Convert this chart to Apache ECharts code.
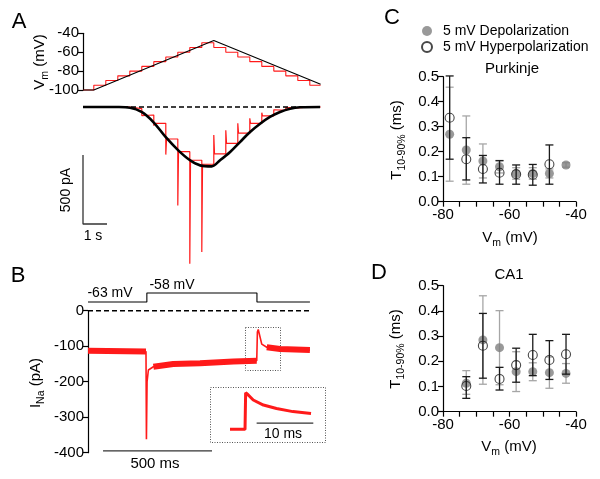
<!DOCTYPE html>
<html><head><meta charset="utf-8">
<script src="https://cdn.jsdelivr.net/npm/echarts@6/dist/echarts.min.js"></script>
<style>html,body{margin:0;padding:0;background:#fff}#c{width:600px;height:479px}</style>
</head><body><div id="c"></div>
<script>
// ---------- Panel A: voltage staircase (s, mV) ----------
const aStepTimes  = [0,0.45,0.95,1.45,1.95,2.45,2.95,3.45,3.95,4.45,4.95,5.45,5.95,6.45,6.95,7.45,7.95,8.45,8.95,9.45,9.9];
const aStepLevels = [-100,-95,-90,-85,-80,-75,-70,-65,-60,-55,-50,-55,-60,-65,-70,-75,-80,-85,-90,-95];
const aRampT = [0,0.45,5.45,9.9];
const aRampV = [-100,-100,-47.5,-94];
// Panel A: step-evoked current (pA): steady level per step and transient at step onset
const aCurLevels = [0,0,0,0,-12,-58,-118,-232,-324,-386,-415,-340,-263,-190,-118,-65,-25,-6,0,0];
const aCurSpikes = [0,0,0,0,-14,-62,-135,-345,-713,-1135,-1051,-203,-169,-118,-82,-41,-20,-5,0,0];
// Panel A: ramp-evoked current (pA)
const aRampCurT = [0,0.8,1.5,1.96,2.44,2.93,3.44,3.97,4.46,4.88,5.36,5.71,6.13,6.54,6.96,7.38,7.79,8.21,8.63,9.04,9.88];
const aRampCurI = [0,0,0,-5,-36,-109,-217,-314,-386,-423,-430,-386,-326,-254,-181,-121,-72,-36,-12,-2,0];

// ---------- Panel B (ms, mV / pA) ----------
const bVoltT = [0,270,270,775,775,1018];
const bVoltV = [-63,-63,-58,-58,-63,-63];
const bCurT = [0,266,268,271,277,300,391,514,667,774,777,781,797,820,881,1018];
const bCurI = [-113,-115,-362,-200,-167,-158,-150,-148,-143,-141,-60,-53,-94,-103,-108,-111];
const insT = [0,2.65,2.76,3.23,4.1,5.9,8.2,11.1,14.3];
const insI = [-148,-148,-53,-59,-72,-85,-94,-102,-107];

// ---------- Panel C: Purkinje ----------
const cDepV  = [-78,-73,-68,-63,-58,-53,-48,-43];
const cDep   = [0.27,0.207,0.163,0.14,0.113,0.113,0.113,0.147];
const cDepLo = [0.082,0.07,0.095,0.115,0.09,0.09,0.095,0.138];
const cDepHi = [0.458,0.343,0.231,0.165,0.136,0.136,0.131,0.156];
const cHypV  = [-78,-73,-68,-63,-58,-53,-48];
const cHyp   = [0.336,0.17,0.131,0.116,0.11,0.108,0.15];
const cHypLo = [0.17,0.087,0.075,0.07,0.07,0.066,0.07];
const cHypHi = [0.503,0.256,0.185,0.164,0.147,0.149,0.227];

// ---------- Panel D: CA1 ----------
const dDepV  = [-73,-68,-63,-58,-53,-48,-43];
const dDep   = [0.113,0.285,0.254,0.159,0.159,0.155,0.152];
const dDepLo = [0.069,0.109,0.107,0.08,0.123,0.093,0.113];
const dDepHi = [0.163,0.46,0.401,0.238,0.194,0.217,0.191];
const dHypV  = [-73,-68,-63,-58,-53,-48,-43];
const dHyp   = [0.102,0.262,0.13,0.185,0.225,0.205,0.228];
const dHypLo = [0.053,0.133,0.086,0.117,0.143,0.128,0.149];
const dHypHi = [0.139,0.39,0.176,0.252,0.307,0.282,0.307];

const FONT = 'Liberation Sans, Arial, sans-serif';
const RED = '#ff1a1a';

// build staircase points from listed levels
const aStairs = [];
aStepLevels.forEach((L,k)=>{ aStairs.push([aStepTimes[k],L],[aStepTimes[k+1],L]); });
const aCurPts = [];
aCurLevels.forEach((L,k)=>{
  if (k>0) aCurPts.push([aStepTimes[k], aCurSpikes[k]]);
  aCurPts.push([aStepTimes[k]+(k>0?0.03:0), L],[aStepTimes[k+1], L]);
});
const zip = (a,b)=>a.map((v,i)=>[v,b[i]]);
const err = (x,lo,hi)=>x.map((v,i)=>[v,lo[i],hi[i]]);
const bBand = bCurT.map((t,i)=> ((t>266&&t<295)||(t>=775&&t<815)) ? [t,null] : [t,bCurI[i]]);

function errRender(color){
  return function(params, api){
    const x=api.value(0), lo=api.value(1), hi=api.value(2);
    const p1=api.coord([x,lo]), p2=api.coord([x,hi]); const w=4;
    const st={stroke:color, lineWidth:1.3};
    return {type:'group', children:[
      {type:'line',shape:{x1:p1[0],y1:p1[1],x2:p2[0],y2:p2[1]},style:st},
      {type:'line',shape:{x1:p1[0]-w,y1:p1[1],x2:p1[0]+w,y2:p1[1]},style:st},
      {type:'line',shape:{x1:p2[0]-w,y1:p2[1],x2:p2[0]+w,y2:p2[1]},style:st}]};
  };
}

const axisLine = {show:true, onZero:false, lineStyle:{color:'#000', width:1.2}};
const axisTick = {show:true, inside:false, length:5, lineStyle:{color:'#000', width:1.2}};
const lab = (size,extra)=>Object.assign({color:'#000', fontSize:size, fontFamily:FONT, margin:4}, extra||{});
const hidden = (min,max)=>({type:'value', min, max, show:false});

const grids = [
  {left:83, top:33.3, width:240, height:56.7},
  {left:83, top:93.2, width:240, height:179.4},
  {left:88, top:291.2, width:239.8, height:14.4},
  {left:88, top:310.7, width:239.8, height:142},
  {left:230, top:389.6, width:85, height:44.4},
  {left:443, top:76.7, width:133, height:125},
  {left:443, top:285.7, width:133, height:126}
].map(g=>Object.assign({outerBoundsMode:'none', containLabel:false}, g));

const xAxes = [
  hidden(0,10), hidden(0,10), hidden(0,1100), hidden(0,1100), hidden(0,15),
  {type:'value', min:-80, max:-40, interval:5, axisLine, axisTick, splitLine:{show:false},
   axisLabel:lab(15,{margin:6, formatter:v=>(v%20===0?String(v):'')})},
  {type:'value', min:-80, max:-40, interval:5, axisLine, axisTick, splitLine:{show:false},
   axisLabel:lab(15,{margin:6, formatter:v=>(v%20===0?String(v):'')})}
].map((a,i)=>Object.assign(a,{gridIndex:i}));

const yAxes = [
  {type:'value', min:-100, max:-40, interval:20, axisLine, axisTick, splitLine:{show:false}, axisLabel:lab(15)},
  hidden(-1200,100), hidden(-65,-57),
  {type:'value', min:-400, max:0, interval:100, axisLine, axisTick, splitLine:{show:false}, axisLabel:lab(15)},
  hidden(-160,-45),
  {type:'value', min:0, max:0.5, interval:0.1, axisLine, axisTick, splitLine:{show:false}, axisLabel:lab(15,{formatter:v=>v.toFixed(1)})},
  {type:'value', min:0, max:0.5, interval:0.1, axisLine, axisTick, splitLine:{show:false}, axisLabel:lab(15,{formatter:v=>v.toFixed(1)})}
].map((a,i)=>Object.assign(a,{gridIndex:i}));

const line = (idx,data,color,width,extra)=>Object.assign({type:'line', xAxisIndex:idx, yAxisIndex:idx, data,
  showSymbol:false, symbol:'none', clip:false, silent:true, animation:false,
  lineStyle:{color, width}}, extra||{});

const DEP='5 mV Depolarization', HYP='5 mV Hyperpolarization';
function panelSeries(idx, depV, dep, depLo, depHi, hypV, hyp, hypLo, hypHi){
  return [
    {type:'custom', name:'dep-err', xAxisIndex:idx, yAxisIndex:idx, renderItem:errRender('#a6a6a6'),
     data:err(depV,depLo,depHi), encode:{x:0,y:[1,2]}, z:1, silent:true, animation:false},
    {type:'scatter', name:DEP, xAxisIndex:idx, yAxisIndex:idx, data:zip(depV,dep), symbol:'circle', symbolSize:9,
     itemStyle:{color:'#7f7f7f'}, z:2, silent:true, animation:false},
    {type:'custom', name:'hyp-err', xAxisIndex:idx, yAxisIndex:idx, renderItem:errRender('#1a1a1a'),
     data:err(hypV,hypLo,hypHi), encode:{x:0,y:[1,2]}, z:3, silent:true, animation:false},
    {type:'scatter', name:HYP, xAxisIndex:idx, yAxisIndex:idx, data:zip(hypV,hyp), symbol:'circle', symbolSize:9,
     itemStyle:{color:'rgba(255,255,255,0)', borderColor:'#1a1a1a', borderWidth:1.1}, z:4, silent:true, animation:false}
  ];
}

const series = [
  line(0, aStairs, RED, 1.1),
  line(0, zip(aRampT,aRampV), '#000', 1.1),
  line(1, aCurPts, RED, 1.2),
  line(1, zip(aRampCurT,aRampCurI), '#000', 2.6, {smooth:0.35}),
  line(1, [[0,0],[9.9,0]], '#000', 1.5, {lineStyle:{color:'#000',width:1.5,type:[5,3]}}),
  line(1, [[0,-348],[0,-848],[1,-848]], '#333', 1.3),
  line(2, zip(bVoltT,bVoltV), '#000', 1.1),
  line(3, [[0,0],[1018,0]], '#000', 1.5, {lineStyle:{color:'#000',width:1.5,type:[5,3]}}),
  line(3, bBand, RED, 6, {connectNulls:false}),
  line(3, zip(bCurT,bCurI), RED, 1.6),
  line(3, [[69,-395],[569,-395]], '#333', 1.3),
  line(4, zip(insT,insI), RED, 3),
  line(4, [[4.7,-132],[14.7,-132]], '#333', 1.3),
  ...panelSeries(5, cDepV,cDep,cDepLo,cDepHi, cHypV,cHyp,cHypLo,cHypHi),
  ...panelSeries(6, dDepV,dDep,dDepLo,dDepHi, dHypV,dHyp,dHypLo,dHypHi)
];

const t = (x,y,text,size,extra)=>Object.assign({type:'text', x, y, silent:true,
  style:{text, fontSize:size, fontFamily:FONT, fill:'#000', align:'center', verticalAlign:'middle'}}, extra||{});
const richT = (x,y,text,rot)=>({type:'text', x, y, rotation:rot, silent:true,
  style:{text, fill:'#000', align:'center', verticalAlign:'middle',
    rich:{a:{fontSize:15, fontFamily:FONT, lineHeight:22, verticalAlign:'middle', fill:'#000'},
          s:{fontSize:10.5, fontFamily:FONT, lineHeight:12, verticalAlign:'bottom', fill:'#000'}}}});
const R = Math.PI/2;

const graphic = [
  t(19,22,'A',22), t(18,276,'B',22), t(392,18,'C',22), t(379,273,'D',22),
  richT(40,62,'{a|V}{s|m}{a| (mV)}',R),
  richT(36,383,'{a|I}{s|Na}{a| (pA)}',R),
  richT(397,140,'{a|T}{s|10-90%}{a| (ms)}',R),
  richT(396,349,'{a|T}{s|10-90%}{a| (ms)}',R),
  richT(510,238,'{a|V}{s|m}{a| (mV)}',0),
  richT(509,447,'{a|V}{s|m}{a| (mV)}',0),
  t(512,69,'Purkinje',15), t(509,275,'CA1',15),
  t(66,190,'500 pA',14,{rotation:R}), t(93,236,'1 s',14),
  t(110,293,'-63 mV',14), t(172,285,'-58 mV',14),
  t(155,464,'500 ms',15), t(283,434,'10 ms',14),
  {type:'rect', silent:true, shape:{x:245.5,y:327.5,width:35,height:43}, style:{fill:'none', stroke:'#555', lineWidth:1, lineDash:[1,1.5]}},
  {type:'rect', silent:true, shape:{x:210.5,y:387.5,width:115,height:55}, style:{fill:'none', stroke:'#555', lineWidth:1, lineDash:[1,1.5]}}
];

const chart = echarts.init(document.getElementById('c'), null, {renderer:'canvas'});
chart.setOption({
  animation:false,
  backgroundColor:'#fff',
  grid:grids, xAxis:xAxes, yAxis:yAxes, series, graphic,
  legend:{data:[DEP,HYP], left:421, top:24, orient:'vertical', itemWidth:22, itemHeight:10, itemGap:2,
    selectedMode:false, textStyle:{fontSize:14, fontFamily:FONT, color:'#000'}, padding:0}
});
</script>
</body></html>
